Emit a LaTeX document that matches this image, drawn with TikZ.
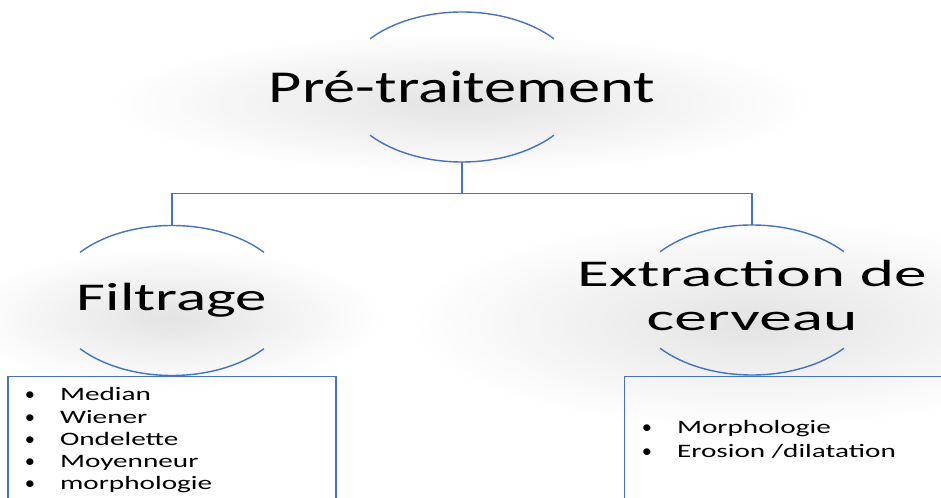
\documentclass[tikz,border=0pt]{standalone}
\usepackage{fontspec}
\setmainfont{Carlito}
\usetikzlibrary{shapes.geometric,positioning,fadings}

\definecolor{linkblue}{RGB}{68,114,196}
\tikzfading[name=softglow, inner color=transparent!0, outer color=transparent!100]
\newcommand{\wide}[2]{\scalebox{#1}[1]{#2}}
\newcommand{\itemdot}{\makebox[13pt][l]{\scalebox{0.7}[1]{\textbullet}}}

\begin{document}
\begin{tikzpicture}[
  title/.style={ellipse, minimum width=4.8cm, minimum height=3cm, inner sep=0pt, align=center},
  conn/.style={draw=linkblue, line width=0.8pt},
  listbox/.style={draw=linkblue, line width=0.8pt, minimum height=3cm},
  items/.style={anchor=base west, inner sep=0pt},
  glow/.style={fill=black!11, path fading=softglow},
]
\useasboundingbox (0,0) rectangle (18.82,9.96);

% Soft shadows behind the titles
\fill[glow] (9.24,7.9) ellipse (7cm and 1.4cm);
\fill[glow] (3.44,3.6) ellipse (4.2cm and 1.4cm);
\fill[glow] (15.04,3.5) ellipse (6.8cm and 2.1cm);

% Root and children
\node[title] (pre) at (9.24, 8.22) {\fontsize{26}{30}\selectfont\wide{1.41}{Pré-traitement}};
\node[title] (filt) at (3.44, 3.95) {\fontsize{22.4}{26}\selectfont\wide{1.6}{Filtrage}};
\node[title] (extr) at (15.04, 3.96) {\fontsize{21.5}{25}\selectfont\wide{1.73}{\begin{tabular}{@{}c@{}}Extraction de\\cerveau\end{tabular}}};

% Open circles round the titles
\draw[conn] (pre.center) ++(40:2.4cm and 1.5cm) arc[start angle=40, end angle=140, x radius=2.4cm, y radius=1.5cm];
\draw[conn] (pre.center) ++(220:2.4cm and 1.5cm) arc[start angle=220, end angle=320, x radius=2.4cm, y radius=1.5cm];
\draw[conn] (filt.center) ++(40:2.4cm and 1.5cm) arc[start angle=40, end angle=140, x radius=2.4cm, y radius=1.5cm];
\draw[conn] (filt.center) ++(220:2.4cm and 1.5cm) arc[start angle=220, end angle=320, x radius=2.4cm, y radius=1.5cm];
\draw[conn] (extr.center) ++(40:2.4cm and 1.5cm) arc[start angle=40, end angle=140, x radius=2.4cm, y radius=1.5cm];
\draw[conn] (extr.center) ++(220:2.4cm and 1.5cm) arc[start angle=220, end angle=320, x radius=2.4cm, y radius=1.5cm];

% Tree lines
\coordinate (bus) at (9.24, 6.09);
\draw[conn] (pre.south) -- (bus);
\draw[conn] (filt.north) |- (bus) -| (extr.north);

% Boxes with the methods
\node[listbox, minimum width=6.56cm, below=0pt of filt] (filtbox) {};
\node[listbox, minimum width=7cm, anchor=north west] (extrbox) at (12.48, 2.44) {};

\node[items] (filtlist) at (0.49, 1.94) {\fontsize{10.8}{12.6}\selectfont\wide{1.54}{%
  \begin{tabular}[t]{@{}l@{}}
  \itemdot Median\\
  \itemdot Wiener\\
  \itemdot Ondelette\\
  \itemdot Moyenneur\\
  \itemdot morphologie
  \end{tabular}}};
\node[items] (extrlist) at (12.83, 1.28) {\fontsize{10.8}{13.6}\selectfont\wide{1.54}{%
  \begin{tabular}[t]{@{}l@{}}
  \itemdot Morphologie\\
  \itemdot Erosion /dilatation
  \end{tabular}}};

\end{tikzpicture}
\end{document}
